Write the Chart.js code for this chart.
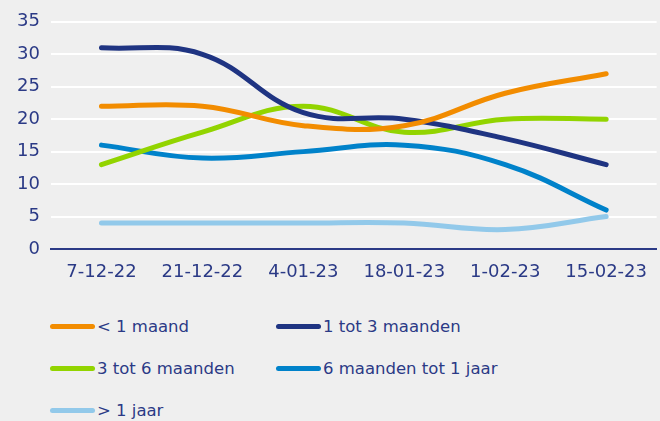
<!DOCTYPE html>
<html>
<head>
<meta charset="utf-8">
<script src="https://cdn.jsdelivr.net/npm/chart.js@4/dist/chart.umd.min.js"></script>
<style>
    html, body { margin: 0; padding: 0; background: #efefef; }
    #wrap { position: relative; width: 660px; height: 421px; overflow: hidden; }
    #chart-box { position: absolute; left: 0; top: 0; width: 660px; height: 300px; }
    #legend { position: absolute; left: 50px; top: 305px; display: grid;
              grid-template-columns: 226px 260px; row-gap: 0; font-family: "DejaVu Sans", sans-serif;
              font-size: 16.5px; color: #2b3a86; }
    .item { display: flex; align-items: center; height: 42px; white-space: nowrap; }
    .swatch { width: 45px; height: 5px; border-radius: 3px; margin-right: 2px; }
</style>
</head>
<body>
<div id="wrap">
    <div id="chart-box"><canvas id="duur-chart"></canvas></div>
    <div id="legend"></div>
</div>
<script>
const dates = ["7-12-22", "21-12-22", "4-01-23", "18-01-23", "1-02-23", "15-02-23"];

const seriesNames = ["< 1 maand", "1 tot 3 maanden", "3 tot 6 maanden", "6 maanden tot 1 jaar", "> 1 jaar"];
const seriesColors = ["#f28c00", "#1f3482", "#92d400", "#0082ca", "#92c9ea"];

const minderDanMaand = [22, 22, 19, 19, 24, 27];
const eenTotDrie = [31, 30, 21, 20, 17, 13];
const drieTotZes = [13, 18, 22, 18, 20, 20];
const zesTotJaar = [16, 14, 15, 16, 13, 6];
const meerDanJaar = [4, 4, 4, 4, 3, 5];

const yTicks = [0, 5, 10, 15, 20, 25, 30, 35];

const textColor = "#2b3a86";
const allValues = [minderDanMaand, eenTotDrie, drieTotZes, zesTotJaar, meerDanJaar];

const datasets = allValues.map((values, i) => ({
    label: seriesNames[i],
    data: values,
    borderColor: seriesColors[i],
    backgroundColor: seriesColors[i],
    borderWidth: 5,
    borderCapStyle: "round",
    tension: 0.4,
    pointRadius: 0,
    fill: false
}));

const ctx = document.getElementById("duur-chart").getContext("2d");
new Chart(ctx, {
    type: "line",
    data: { labels: dates, datasets: datasets },
    options: {
        responsive: true,
        maintainAspectRatio: false,
        animation: false,
        layout: { padding: { top: 20, right: 0, bottom: 0, left: 0 } },
        plugins: {
            legend: { display: false },
            tooltip: { enabled: false }
        },
        scales: {
            x: {
                offset: true,
                grid: { display: false, drawTicks: false },
                border: { display: true, color: "#2b3a86", width: 2 },
                ticks: {
                    color: textColor,
                    padding: 13,
                    maxRotation: 0,
                    font: { family: "DejaVu Sans", size: 18 }
                },
                afterFit: (scale) => { scale.height = 51; }
            },
            y: {
                min: 0,
                max: 35,
                afterBuildTicks: (scale) => { scale.ticks = yTicks.map(v => ({ value: v })); },
                grid: { color: "#ffffff", lineWidth: 2, drawTicks: false },
                border: { display: false },
                ticks: {
                    color: textColor,
                    padding: 11,
                    font: { family: "DejaVu Sans", size: 18 }
                },
                afterFit: (scale) => { scale.width = 51; }
            }
        }
    }
});

// legend in two columns under the plot
const legend = document.getElementById("legend");
seriesNames.forEach((name, i) => {
    const item = document.createElement("div");
    item.className = "item";
    item.innerHTML = `<span class="swatch" style="background:${seriesColors[i]}"></span><span>${name}</span>`;
    legend.appendChild(item);
});
</script>
</body>
</html>
